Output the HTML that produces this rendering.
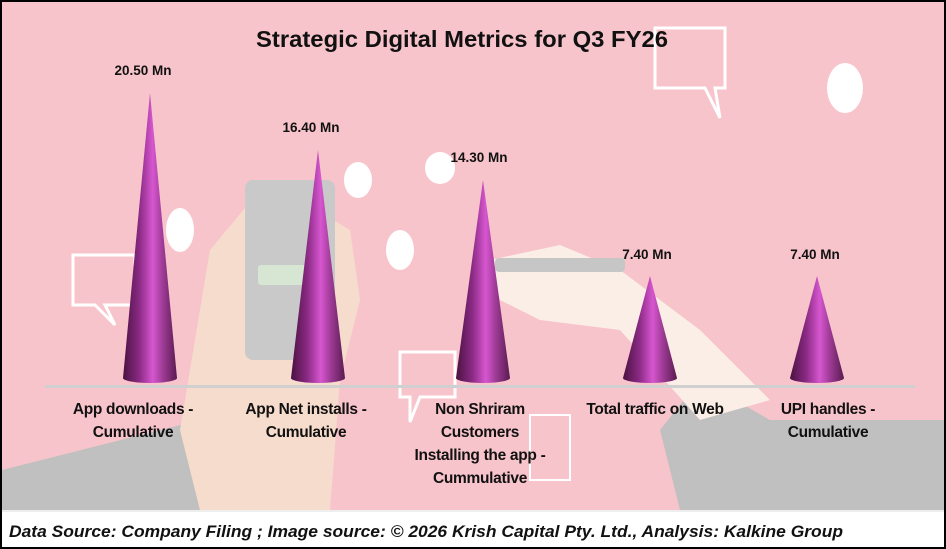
<!DOCTYPE html>
<html><head><meta charset="utf-8"><style>
html,body{margin:0;padding:0;background:#fff}
svg{display:block}
text{font-family:"Liberation Sans",sans-serif}
</style></head><body>
<svg width="946" height="549" viewBox="0 0 946 549" xmlns="http://www.w3.org/2000/svg">
<defs>
<linearGradient id="cg" x1="0" x2="1" y1="0" y2="0">
<stop offset="0" stop-color="#4a1240"/>
<stop offset="0.3" stop-color="#8a2a84"/>
<stop offset="0.55" stop-color="#d656cf"/>
<stop offset="0.75" stop-color="#9a3a92"/>
<stop offset="1" stop-color="#5a1a50"/>
</linearGradient>
</defs>
<rect x="0" y="0" width="946" height="549" fill="#fff"/>
<rect x="2" y="2" width="942" height="508" fill="#f8c4cb"/>
<path d="M2 470 L200 420 L260 430 L300 510 L2 510 Z" fill="#c0c0c0"/>
<path d="M700 380 L770 420 L944 420 L944 510 L680 510 L660 430 Z" fill="#c0c0c0"/>
<path d="M210 250 L260 190 L300 200 L350 230 L360 300 L340 380 L330 510 L200 510 L180 430 Z" fill="#f6dccd"/>
<path d="M490 260 L560 245 L620 270 L700 330 L770 400 L700 420 L620 330 L540 320 L500 300 Z" fill="#fbeee6"/>
<rect x="245" y="180" width="90" height="180" rx="8" fill="#c9c9c9"/>
<rect x="258" y="265" width="60" height="20" rx="3" fill="#d6e6d2"/>
<rect x="495" y="258" width="130" height="14" rx="4" fill="#c6c6c6"/>
<ellipse cx="180" cy="230" rx="14" ry="22" fill="#fff"/>
<ellipse cx="440" cy="168" rx="15" ry="16" fill="#fff"/>
<ellipse cx="358" cy="180" rx="14" ry="18" fill="#fff"/>
<ellipse cx="400" cy="250" rx="14" ry="20" fill="#fff"/>
<ellipse cx="845" cy="88" rx="18" ry="25" fill="#fff"/>
<path d="M655 28 h70 v60 h-10 l5 30 l-15 -30 h-50 z" fill="none" stroke="#fff" stroke-width="3"/>
<path d="M73 255 h62 v50 h-30 l10 20 l-20 -20 h-22 z" fill="none" stroke="#fff" stroke-width="3"/>
<path d="M400 352 h55 v45 h-35 l-10 25 l0 -25 h-10 z" fill="none" stroke="#fff" stroke-width="3"/>
<rect x="530" y="415" width="40" height="65" fill="none" stroke="#fff" stroke-width="2"/>
<rect x="45" y="385" width="870" height="3" fill="#d0d0d0"/>
<text x="462" y="47" font-size="23" font-weight="bold" text-anchor="middle" fill="#111" textLength="412" lengthAdjust="spacingAndGlyphs">Strategic Digital Metrics for Q3 FY26</text>
<g>
<path d="M150 93 L177 378 A27 5 0 0 1 123 378 Z" fill="url(#cg)"/>
<path d="M318 150 L345 378 A27 5 0 0 1 291 378 Z" fill="url(#cg)"/>
<path d="M483 180 L510 378 A27 5 0 0 1 456 378 Z" fill="url(#cg)"/>
<path d="M650 276 L677 378 A27 5 0 0 1 623 378 Z" fill="url(#cg)"/>
<path d="M817 276 L844 378 A27 5 0 0 1 790 378 Z" fill="url(#cg)"/>
</g>
<g font-size="13.5" font-weight="bold" fill="#111" text-anchor="middle">
<text x="143" y="75">20.50 Mn</text>
<text x="311" y="132">16.40 Mn</text>
<text x="479" y="162">14.30 Mn</text>
<text x="647" y="259">7.40 Mn</text>
<text x="815" y="259">7.40 Mn</text>
</g>
<g font-size="15.5" font-weight="bold" fill="#111" text-anchor="middle" letter-spacing="-0.3">
<text x="133" y="414">App downloads -</text>
<text x="133" y="437">Cumulative</text>
<text x="306" y="414">App Net installs -</text>
<text x="306" y="437">Cumulative</text>
<text x="480" y="414">Non Shriram</text>
<text x="480" y="437">Customers</text>
<text x="480" y="460">Installing the app -</text>
<text x="480" y="483">Cummulative</text>
<text x="655" y="414">Total traffic on Web</text>
<text x="828" y="414">UPI handles -</text>
<text x="828" y="437">Cumulative</text>
</g>
<line x1="2" y1="511" x2="944" y2="511" stroke="#ddd" stroke-width="1"/>
<text x="9" y="537" font-size="17" font-style="italic" font-weight="bold" fill="#111" textLength="834" lengthAdjust="spacingAndGlyphs">Data Source: Company Filing ; Image source: © 2026 Krish Capital Pty. Ltd., Analysis: Kalkine Group</text>
<rect x="1" y="1" width="944" height="547" fill="none" stroke="#000" stroke-width="2"/>
</svg>
</body></html>
